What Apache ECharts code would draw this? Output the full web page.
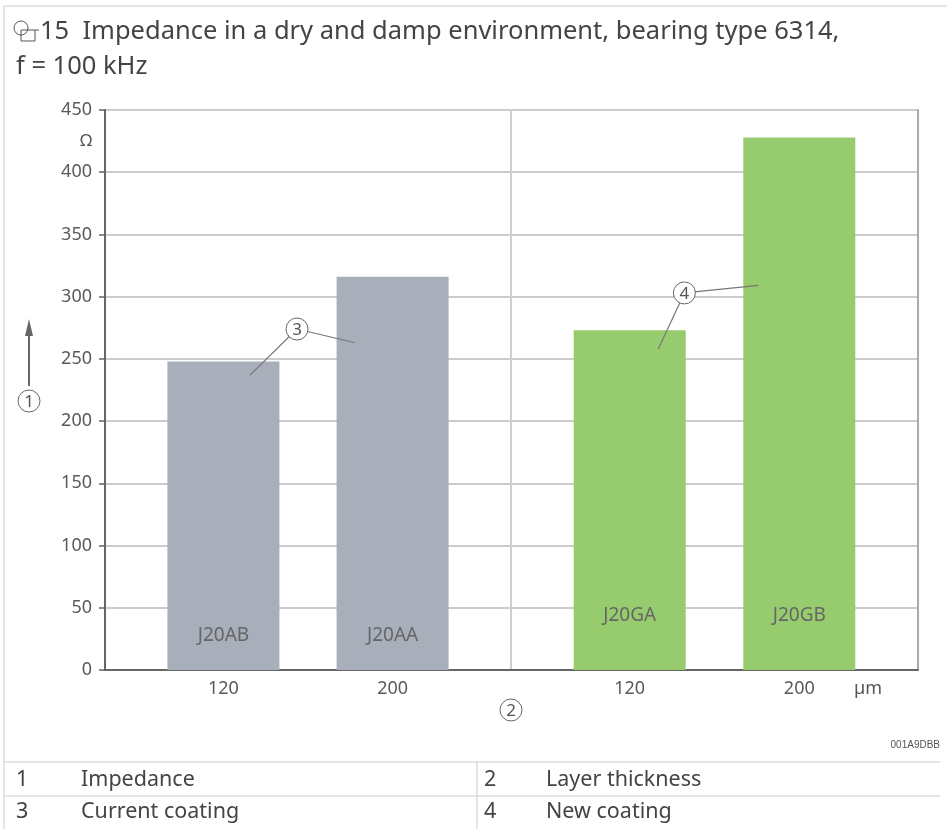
<!DOCTYPE html>
<html><head><meta charset="utf-8">
<script src="https://cdn.jsdelivr.net/npm/echarts@6/dist/echarts.min.js"></script>
<style>html,body{margin:0;padding:0;background:#fff}#c{width:947px;height:829px}</style>
</head><body><div id="c"></div>
<script>
// ---- data ----
const thickness = [120, 200];            // layer thickness, µm
const currentNames = ['J20AB', 'J20AA']; // current coating
const currentValues = [248, 316];        // impedance, Ω
const newNames = ['J20GA', 'J20GB'];     // new coating
const newValues = [273, 428];            // impedance, Ω
const yMin = 0, yMax = 450, yStep = 50;
const titleLine1 = '15  Impedance in a dry and damp environment, bearing type 6314,';
const titleLine2 = 'f = 100 kHz';
const legendRows = [['1', 'Impedance', '2', 'Layer thickness'], ['3', 'Current coating', '4', 'New coating']];
const docCode = '001A9DBB';

const FONT = 'Noto Sans';
const TXT = '#444';
const AX = '#666';
const GRIDC = '#cccccc';

const chart = echarts.init(document.getElementById('c'), null, {renderer: 'canvas'});

function xAxisCfg(gi) {
  return {
    type: 'value', gridIndex: gi, min: 64, max: 256, interval: 8,
    axisLine: {show: true, lineStyle: {color: AX, width: 2}},
    axisTick: {show: false}, splitLine: {show: false},
    axisLabel: {
      color: '#5a5a5a', fontSize: 18, fontFamily: FONT, margin: 10,
      formatter: v => thickness.includes(v) ? String(v) : ''
    }
  };
}
function mkData(names, vals) {
  return thickness.map((t, i) => ({name: names[i], value: [t, vals[i]]}));
}
function barSeries(gi, names, vals, color, dist) {
  return {
    type: 'bar', xAxisIndex: gi, yAxisIndex: gi, barWidth: 112,
    data: mkData(names, vals),
    itemStyle: {color: color},
    label: {show: true, position: 'insideBottom', distance: dist, formatter: '{b}',
      color: '#666', fontSize: 19, fontFamily: FONT},
    silent: true, animation: false
  };
}

chart.setOption({
  animation: false,
  grid: [
    {left: 105, top: 110, width: 406, height: 560},
    {left: 511, top: 110, width: 407, height: 560}
  ],
  xAxis: [xAxisCfg(0), xAxisCfg(1)],
  yAxis: [
    {type: 'value', gridIndex: 0, min: yMin, max: yMax, interval: yStep,
      axisLine: {show: true, lineStyle: {color: AX, width: 2}},
      axisTick: {show: true, length: 6, lineStyle: {color: AX, width: 1.5}},
      axisLabel: {color: '#5a5a5a', fontSize: 18, fontFamily: FONT, margin: 13},
      splitLine: {show: true, lineStyle: {color: GRIDC, width: 2}}},
    {type: 'value', gridIndex: 1, min: yMin, max: yMax, interval: yStep,
      axisLine: {show: true, lineStyle: {color: '#cfcfcf', width: 2}},
      axisTick: {show: false}, axisLabel: {show: false},
      splitLine: {show: true, lineStyle: {color: GRIDC, width: 2}}},
    {type: 'value', gridIndex: 1, position: 'right', min: yMin, max: yMax, interval: yStep,
      axisLine: {show: true, onZero: false, lineStyle: {color: '#aaa', width: 2}},
      axisTick: {show: false}, axisLabel: {show: false}, splitLine: {show: false}}
  ],
  series: [
    barSeries(0, currentNames, currentValues, '#a8aeba', 25),
    barSeries(1, newNames, newValues, '#97cc6e', 45)
  ]
});

// ---- annotations (anchored through the axes) ----
const P = (gi, x, y) => chart.convertToPixel({gridIndex: gi}, [x, y]);
function circled(cx, cy, t) {
  return [
    {type: 'circle', shape: {cx: cx, cy: cy, r: 11}, style: {fill: '#fff', stroke: '#666', lineWidth: 1}, z: 20},
    {type: 'text', x: cx, y: cy + 1, style: {text: t, fill: '#555', font: '17px "' + FONT + '"', align: 'center', verticalAlign: 'middle'}, z: 21}
  ];
}
function leader(a, b) {
  return {type: 'line', shape: {x1: a[0], y1: a[1], x2: b[0], y2: b[1]}, style: {stroke: '#777', lineWidth: 1.2}, z: 19};
}
const g = [];
// callout 3 (current coating)
const c3 = P(0, 154.8, 274), e3a = P(0, 132.6, 237), e3b = P(0, 182.2, 263);
g.push(leader(c3, e3a), leader(c3, e3b), ...circled(c3[0], c3[1], '3'));
// callout 4 (new coating)
const c4 = P(1, 145.8, 303), e4a = P(1, 133.5, 258), e4b = P(1, 180.8, 309);
g.push(leader(c4, e4a), leader(c4, e4b), ...circled(c4[0], c4[1], '4'));

// y-axis unit and marker
const pTop = P(0, 64, yMax), pBot = P(0, 64, yMin), p400 = P(0, 64, 400);
g.push({type: 'text', x: 86, y: (pTop[1] + p400[1]) / 2, style: {text: 'Ω', fill: '#555', font: '17px "' + FONT + '"', align: 'center', verticalAlign: 'middle'}});
g.push({type: 'line', shape: {x1: 29, y1: 386, x2: 29, y2: 330}, style: {stroke: '#666', lineWidth: 2}});
g.push({type: 'polygon', shape: {points: [[29, 319], [25, 336], [33, 336]]}, style: {fill: '#666'}});
g.push(...circled(29, 401, '1'));
// x-axis unit and marker
g.push({type: 'text', x: 868, y: pBot[1] + 19, style: {text: 'µm', fill: '#555', font: '18px "' + FONT + '"', align: 'center', verticalAlign: 'middle'}});
g.push(...circled(511, 710, '2'));

// title
g.push({type: 'circle', shape: {cx: 21, cy: 28, r: 7}, style: {fill: 'none', stroke: '#555', lineWidth: 1}});
g.push({type: 'rect', shape: {x: 21, y: 30, width: 14, height: 11}, style: {fill: 'none', stroke: '#555', lineWidth: 1}});
g.push({type: 'line', shape: {x1: 35, y1: 30, x2: 39, y2: 30}, style: {stroke: '#555', lineWidth: 1}});
g.push({type: 'text', x: 40, y: 32, style: {text: titleLine1, fill: TXT, font: '25.5px "' + FONT + '"', verticalAlign: 'middle'}});
g.push({type: 'text', x: 16, y: 67, style: {text: titleLine2, fill: TXT, font: '25.5px "' + FONT + '"', verticalAlign: 'middle'}});

// frame
g.push({type: 'line', shape: {x1: 4, y1: 6, x2: 947, y2: 6}, style: {stroke: '#ddd', lineWidth: 1.5}});
g.push({type: 'line', shape: {x1: 4, y1: 6, x2: 4, y2: 829}, style: {stroke: '#ddd', lineWidth: 1.5}});

// doc code
g.push({type: 'text', x: 940, y: 745, style: {text: docCode, fill: '#555', font: '10px "Liberation Sans Narrow", "Liberation Sans"', align: 'right', verticalAlign: 'middle'}});

// legend table
g.push({type: 'line', shape: {x1: 4, y1: 762, x2: 940, y2: 762}, style: {stroke: '#ccc', lineWidth: 1}});
g.push({type: 'line', shape: {x1: 4, y1: 796, x2: 940, y2: 796}, style: {stroke: '#ccc', lineWidth: 1}});
g.push({type: 'line', shape: {x1: 477, y1: 762, x2: 477, y2: 829}, style: {stroke: '#ccc', lineWidth: 1}});
const colX = [16, 81, 484, 546];
const rowY = [780, 812];
legendRows.forEach((row, r) => row.forEach((t, c) => {
  g.push({type: 'text', x: colX[c], y: rowY[r], style: {text: t, fill: TXT, font: '21.5px "' + FONT + '"', verticalAlign: 'middle'}});
}));

chart.setOption({graphic: g});
</script>
</body></html>
